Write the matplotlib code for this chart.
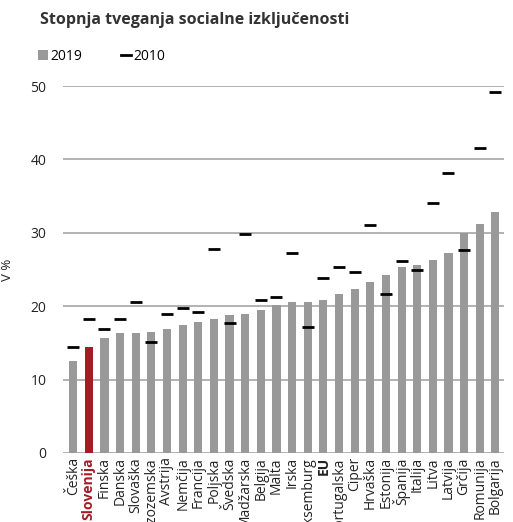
import matplotlib.pyplot as plt
from matplotlib.patches import Patch
from matplotlib.lines import Line2D

plt.rcParams['font.family'] = ['Open Sans', 'DejaVu Sans']

countries = ['Češka', 'Slovenija', 'Finska', 'Danska', 'Slovaška', 'Nizozemska',
             'Avstrija', 'Nemčija', 'Francija', 'Poljska', 'Švedska', 'Madžarska',
             'Belgija', 'Malta', 'Irska', 'Luksemburg', 'EU', 'Portugalska', 'Ciper',
             'Hrvaška', 'Estonija', 'Španija', 'Italija', 'Litva', 'Latvija', 'Grčija',
             'Romunija', 'Bolgarija']
v2019 = [12.5, 14.5, 15.6, 16.3, 16.4, 16.5, 16.9, 17.4, 17.9, 18.2, 18.8, 18.9,
         19.5, 20.1, 20.6, 20.6, 20.9, 21.6, 22.3, 23.3, 24.3, 25.3, 25.6, 26.3,
         27.3, 30.0, 31.2, 32.8]
v2010 = [14.4, 18.3, 16.9, 18.3, 20.6, 15.1, 18.9, 19.7, 19.2, 27.8, 17.7, 29.9,
         20.8, 21.2, 27.3, 17.1, 23.8, 25.3, 24.6, 31.1, 21.7, 26.1, 25.0, 34.0,
         38.2, 27.7, 41.5, 49.2]

grey = '#999999'
red = '#a31d24'

fig = plt.figure(figsize=(5.13, 5.22), dpi=100)
ax = fig.add_axes([63/513, 69/522, 441/513, 367/522])

x = range(len(countries))
colors = [red if c == 'Slovenija' else grey for c in countries]
ax.bar(x, v2019, width=0.52, color=colors, zorder=2)
ax.plot(x, v2010, linestyle='none', marker='_', markersize=8, mew=2, color='black',
        zorder=3, clip_on=False)

ax.set_ylim(0, 50)
ax.set_xlim(-0.65, 27.55)
ax.set_yticks([0, 10, 20, 30, 40, 50])
ax.yaxis.grid(True, color='#a6a6a6', linewidth=1.2, zorder=1)
ax.set_axisbelow(True)
for s in ax.spines.values():
    s.set_visible(False)
ax.tick_params(axis='y', length=0, pad=12, labelsize=10, labelcolor='#222222')
ax.tick_params(axis='x', length=0, pad=3)
ax.set_xticks(list(x))
ax.set_xticklabels(countries, rotation=90, fontsize=10, color='#222222')
for lab in ax.get_xticklabels():
    if lab.get_text() == 'Slovenija':
        lab.set_color(red)
        lab.set_fontweight('bold')
    elif lab.get_text() == 'EU':
        lab.set_fontweight('bold')

ax.set_ylabel('V %', fontsize=9.5, labelpad=12, color='#222222')

fig.text(40/513, 1 - 20/522, 'Stopnja tveganja socialne izključenosti', fontsize=11.5,
         fontweight='bold', color='#333333', va='center')

handles = [Patch(facecolor=grey, edgecolor='none'),
           Line2D([], [], color='black', linewidth=2)]
fig.legend(handles, ['2019', '2010'], loc='center left',
           bbox_to_anchor=(38/513, 1 - 56/522), ncol=2, frameon=False,
           fontsize=10, handlelength=0.7, handleheight=0.7, handletextpad=0.2,
           columnspacing=2.8, borderpad=0, borderaxespad=0)

fig.savefig('out.png', dpi=100)
